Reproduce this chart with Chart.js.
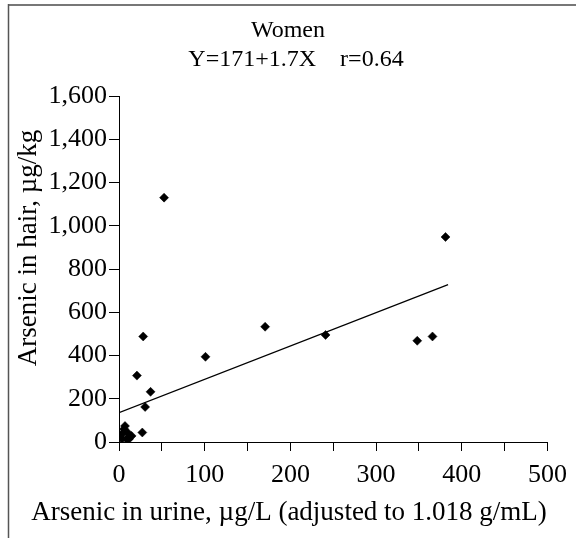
<!DOCTYPE html>
<html>
<head>
<meta charset="utf-8">
<script src="https://cdn.jsdelivr.net/npm/chart.js@4/dist/chart.umd.min.js"></script>
<style>
  html, body { margin: 0; padding: 0; background: #fff; }
  canvas { display: block; }
</style>
</head>
<body>
<canvas id="c" width="576" height="538" style="width:576px;height:538px"></canvas>
<script>
// ---- data ----
const titleLines = ['Women', 'Y=171+1.7X    r=0.64'];
const xTitle = 'Arsenic in urine, \u00B5g/L (adjusted to 1.018 g/mL)';
const yTitle = 'Arsenic in hair, \u00B5g/kg';

// urine arsenic (x) and hair arsenic (y) for each woman
const urineX = [52.6, 28.2, 20.9, 36.8, 30.5, 100.9, 27.2, 170.5, 241, 381, 365.8, 348,
                7, 4.3, 10.4, 14.7, 3.5, 8.9, 11.6, 5.8, 1];
const hairY  = [1130, 488, 307, 232, 162, 394, 44, 533, 495, 948, 488, 468,
                74, 40, 42, 28, 14, 14, 14, 60, 30];

// regression line end points as drawn
const fitX = [0, 384];
const fitY = [136, 728];

const xMin = 0, xMax = 500, xStep = 50, xLabelEvery = 100;
const yMin = 0, yMax = 1600, yStep = 200;

// ---- chart ----
const serif = '"Liberation Serif", "Times New Roman", serif';
const points = urineX.map((x, i) => ({ x: x, y: hairY[i] }));
const fitPts = fitX.map((x, i) => ({ x: x, y: fitY[i] }));

const decor = {
  id: 'decor',
  beforeDraw(chart) {
    const c = chart.ctx;
    c.save();
    c.fillStyle = '#fff';
    c.fillRect(0, 0, chart.width, chart.height);
    c.strokeStyle = '#777';
    c.lineWidth = 2;
    c.beginPath(); c.moveTo(8, 5); c.lineTo(576, 5); c.stroke();
    c.strokeStyle = '#555';
    c.lineWidth = 1.5;
    c.beginPath(); c.moveTo(8.5, 4); c.lineTo(8.5, 538); c.stroke();
    c.restore();
  },
  afterDraw(chart) {
    const c = chart.ctx;
    c.save();
    c.fillStyle = '#000';
    c.textAlign = 'center';
    c.textBaseline = 'alphabetic';
    c.font = '24px ' + serif;
    c.fillText(titleLines[0], 288, 37);
    c.fillText(titleLines[1], 296, 66);
    c.font = '27px ' + serif;
    c.fillText(xTitle, 289, 520);
    c.translate(29, 248);
    c.rotate(-Math.PI / 2);
    c.textBaseline = 'middle';
    c.fillText(yTitle, 0, 0);
    c.restore();
  }
};

new Chart(document.getElementById('c'), {
  type: 'scatter',
  data: {
    datasets: [
      {
        type: 'scatter',
        data: points,
        pointStyle: 'rectRot',
        pointRadius: 4.5,
        pointHoverRadius: 4.5,
        backgroundColor: '#000',
        borderColor: '#000',
        borderWidth: 0.5
      },
      {
        type: 'line',
        data: fitPts,
        borderColor: '#000',
        borderWidth: 1.2,
        pointRadius: 0,
        fill: false,
        tension: 0
      }
    ]
  },
  options: {
    responsive: false,
    animation: false,
    devicePixelRatio: 1,
    layout: { padding: { top: 96, right: 26, left: 0, bottom: 0 } },
    plugins: {
      legend: { display: false },
      tooltip: { enabled: false },
      title: { display: false }
    },
    scales: {
      x: {
        type: 'linear',
        min: xMin, max: xMax,
        ticks: {
          stepSize: xStep,
          autoSkip: false,
          maxRotation: 0,
          padding: 9,
          color: '#000',
          font: { family: serif, size: 26 },
          callback: v => (v % xLabelEvery === 0 ? String(v) : '')
        },
        grid: { drawOnChartArea: false, drawTicks: true, tickLength: 9, color: '#000', lineWidth: 1 },
        border: { display: true, color: '#000', width: 1 },
        afterFit: s => { s.height = 538 - 442; }
      },
      y: {
        type: 'linear',
        min: yMin, max: yMax,
        ticks: {
          stepSize: yStep,
          autoSkip: false,
          padding: 2,
          color: '#000',
          font: { family: serif, size: 26 },
          callback: v => v.toLocaleString('en-US')
        },
        grid: { drawOnChartArea: false, drawTicks: true, tickLength: 10, color: '#000', lineWidth: 1 },
        border: { display: true, color: '#000', width: 1 },
        afterFit: s => { s.width = 119; }
      }
    }
  },
  plugins: [decor]
});
</script>
</body>
</html>
